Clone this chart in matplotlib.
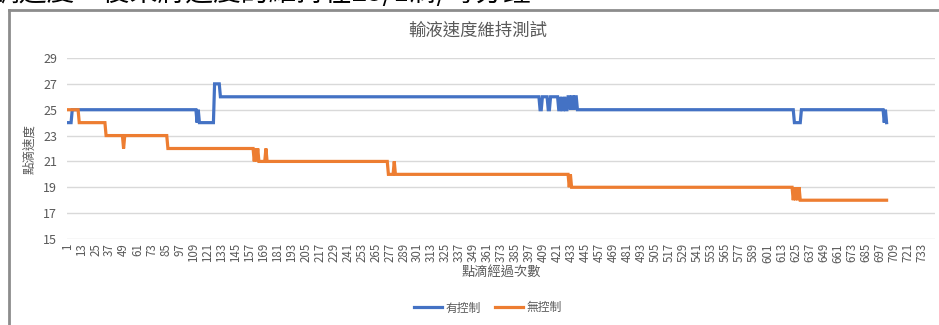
import numpy as np
import matplotlib
matplotlib.use("Agg")
import matplotlib.pyplot as plt
from matplotlib.lines import Line2D

plt.rcParams['font.family'] = ['Noto Sans CJK TC', 'DejaVu Sans']

# drip speed per reading, stored as (value, run length) pairs
ctrl_vals = [24, 25, 24, 25, 24, 27, 26, 25, 26, 25, 26, 25, 26, 25, 26, 25, 26, 25, 26, 25, 26,
             25, 24, 25, 24, 25, 24]
ctrl_runs = [4, 107, 1, 1, 13, 5, 274, 2, 5, 2, 7, 2, 1, 2, 1, 2, 2, 1, 2, 1, 2,
             186, 6, 71, 1, 1, 1]

free_vals = [25, 24, 23, 22, 23, 22, 21, 22, 21, 22, 21, 22, 21, 20, 21, 20, 19, 20, 19,
             18, 19, 18, 19, 18, 19, 18]
free_runs = [10, 23, 15, 1, 37, 74, 1, 1, 1, 1, 6, 1, 104, 5, 1, 149, 1, 1, 190,
             1, 1, 1, 1, 1, 1, 75]

n_categories = 744
tick_labels = list(range(1, n_categories + 1, 12))
y_ticks = [15, 17, 19, 21, 23, 25, 27, 29]

ctrl = np.repeat(ctrl_vals, ctrl_runs)
free = np.repeat(free_vals, free_runs)
x_ctrl = np.arange(1, len(ctrl) + 1)
x_free = np.arange(1, len(free) + 1)

W, H = 939, 325
fig = plt.figure(figsize=(W / 100, H / 100), dpi=100)
fig.patch.set_facecolor("white")

# document text running above the embedded chart (cut off at the top)
fig.text(-8 / W, 1 - 8 / H, "調速度，後來將速度的維持在25/1滴/每分鐘",
         fontsize=20, color="black", ha="left", va="bottom")

# chart frame
fig.add_artist(Line2D([9 / W, 1.0], [1 - 10 / H, 1 - 10 / H], color="#8c8c8c", lw=2,
                      transform=fig.transFigure))
fig.add_artist(Line2D([9 / W, 9 / W], [1 - 10 / H, 0.0], color="#8c8c8c", lw=2,
                      transform=fig.transFigure))

ax = fig.add_axes([67 / W, (H - 239) / H, (935 - 67) / W, (239 - 58) / H])
ax.plot(x_ctrl, ctrl, color="#4472C4", lw=2.3, label="有控制", solid_joinstyle="miter")
ax.plot(x_free, free, color="#ED7D31", lw=2.3, label="無控制", solid_joinstyle="miter")

ax.set_xlim(0.5, n_categories + 0.5)
ax.set_ylim(15, 29)
ax.set_yticks(y_ticks)
ax.set_xticks(tick_labels)
ax.set_xticklabels([str(t) for t in tick_labels], rotation=90, fontsize=8.3, color="#595959")
ax.set_yticklabels([str(t) for t in y_ticks], fontsize=9, color="#595959")
ax.tick_params(axis="both", length=0)
ax.tick_params(axis="x", pad=3)
ax.tick_params(axis="y", pad=7)
ax.grid(axis="y", color="#d9d9d9", lw=1)
ax.set_axisbelow(True)
for s in ax.spines.values():
    s.set_visible(False)

ax.set_ylabel("點滴速度", fontsize=9, color="#595959", labelpad=5)
ax.set_xlabel("點滴經過次數", fontsize=9.5, color="#595959", labelpad=2)

fig.text(478 / W, 1 - 31 / H, "輸液速度維持測試", fontsize=12.5, color="#595959",
         ha="center", va="center")

fig.legend(loc="center", bbox_to_anchor=(488 / W, 1 - 308 / H), ncol=2, frameon=False,
           fontsize=8.5, labelcolor="#595959", handlelength=2.4, handletextpad=0.3,
           columnspacing=1.2)

fig.savefig("out.png", dpi=100, facecolor="white")
